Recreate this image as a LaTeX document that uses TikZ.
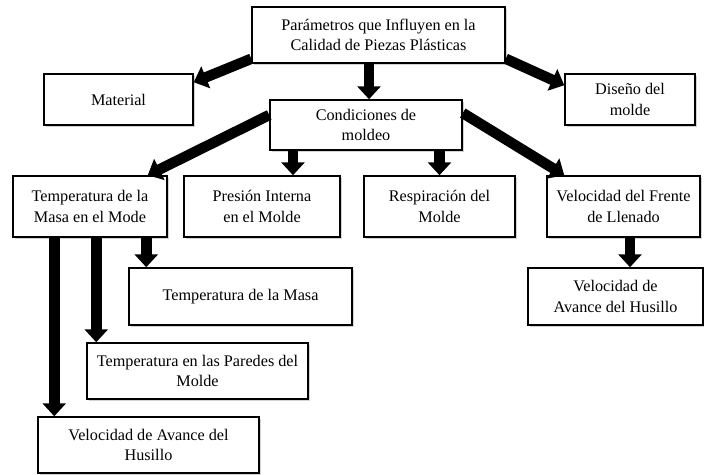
\documentclass[tikz,border=0pt]{standalone}
\usepackage{fontspec}
\setmainfont{Liberation Serif}
\usetikzlibrary{positioning, arrows.meta, shadows}

\tikzset{
  caja/.style={rectangle, draw, line width=1.5pt, fill=white, align=center,
    inner sep=2pt, font=\fontsize{16.2}{20.5}\selectfont,
    drop shadow={shadow xshift=2pt, shadow yshift=-2pt, opacity=0.35, fill=gray}},
  flecha/.style={line width=10.5pt, -{Triangle[length=13pt, width=23pt]}},
}

\begin{document}
\begin{tikzpicture}[x=1pt, y=-1pt]
  \useasboundingbox (0,0) rectangle (704,474);

  % primer nivel
  \node[caja, minimum width=253pt, minimum height=56pt] (par) at (378.5,35)
    {Par\'ametros que Influyen en la\\Calidad de Piezas Pl\'asticas};
  \node[caja, minimum width=149pt, minimum height=51pt] (mat) at (118.5,99.5) {Material};
  \node[caja, minimum width=130pt, minimum height=51pt] (dis) at (630,99.5) {Dise\~no del\\molde};
  \node[caja, minimum width=192pt, minimum height=50pt] (cond) at (366,125) {Condiciones de\\moldeo};

  % segundo nivel
  \node[caja, minimum width=154pt, minimum height=61pt] (tmm) at (90,206.5)
    {Temperatura de la\\Masa en el Mode};
  \node[caja, minimum width=156pt, minimum height=61pt] (pre) at (262,206.5)
    {Presi\'on Interna\\en el Molde};
  \node[caja, minimum width=151pt, minimum height=61pt] (res) at (439.5,206.5)
    {Respiraci\'on del\\Molde};
  \node[caja, minimum width=153pt, minimum height=61pt] (vfr) at (623.5,206.5)
    {Velocidad del Frente\\de Llenado};

  % tercer nivel
  \node[caja, minimum width=223pt, minimum height=57pt] (tma) at (240.5,296.5)
    {Temperatura de la Masa};
  \node[caja, minimum width=221pt, minimum height=56pt] (tpa) at (197.5,371)
    {Temperatura en las Paredes del\\Molde};
  \node[caja, minimum width=221pt, minimum height=56pt] (vah) at (148.5,445)
    {Velocidad de Avance del\\Husillo};
  \node[caja, minimum width=175pt, minimum height=57pt] (vav) at (615.5,296.5)
    {Velocidad de\\Avance del Husillo};

  \draw[flecha] ([yshift=5pt]par.south west)--([yshift=-9pt]mat.north east);
  \draw[flecha] ([yshift=5pt]par.south east)--([yshift=-12pt]dis.north west);
  \draw[flecha] ([xshift=-9.5pt]par.south)--([xshift=-9.5pt]par.south |- cond.north);
  \draw[flecha] ([yshift=10pt]cond.west)--([xshift=-20pt]tmm.north east);
  \draw[flecha] ([xshift=31pt]pre.north |- cond.south)--([xshift=31pt]pre.north);
  \draw[flecha] (res.north |- cond.south)--(res.north);
  \draw[flecha] ([yshift=12pt]cond.east)--([xshift=18pt]vfr.north west);
  \draw[flecha] ([xshift=14.5pt]vav.north |- vfr.south)--([xshift=14.5pt]vav.north);
  \draw[flecha] ([xshift=18pt]tma.north west |- tmm.south)--([xshift=18pt]tma.north west);
  \draw[flecha] ([xshift=10pt]tpa.north west |- tmm.south)--([xshift=10pt]tpa.north west);
  \draw[flecha] ([xshift=17pt]vah.north west |- tmm.south)--([xshift=17pt]vah.north west);
\end{tikzpicture}
\end{document}
